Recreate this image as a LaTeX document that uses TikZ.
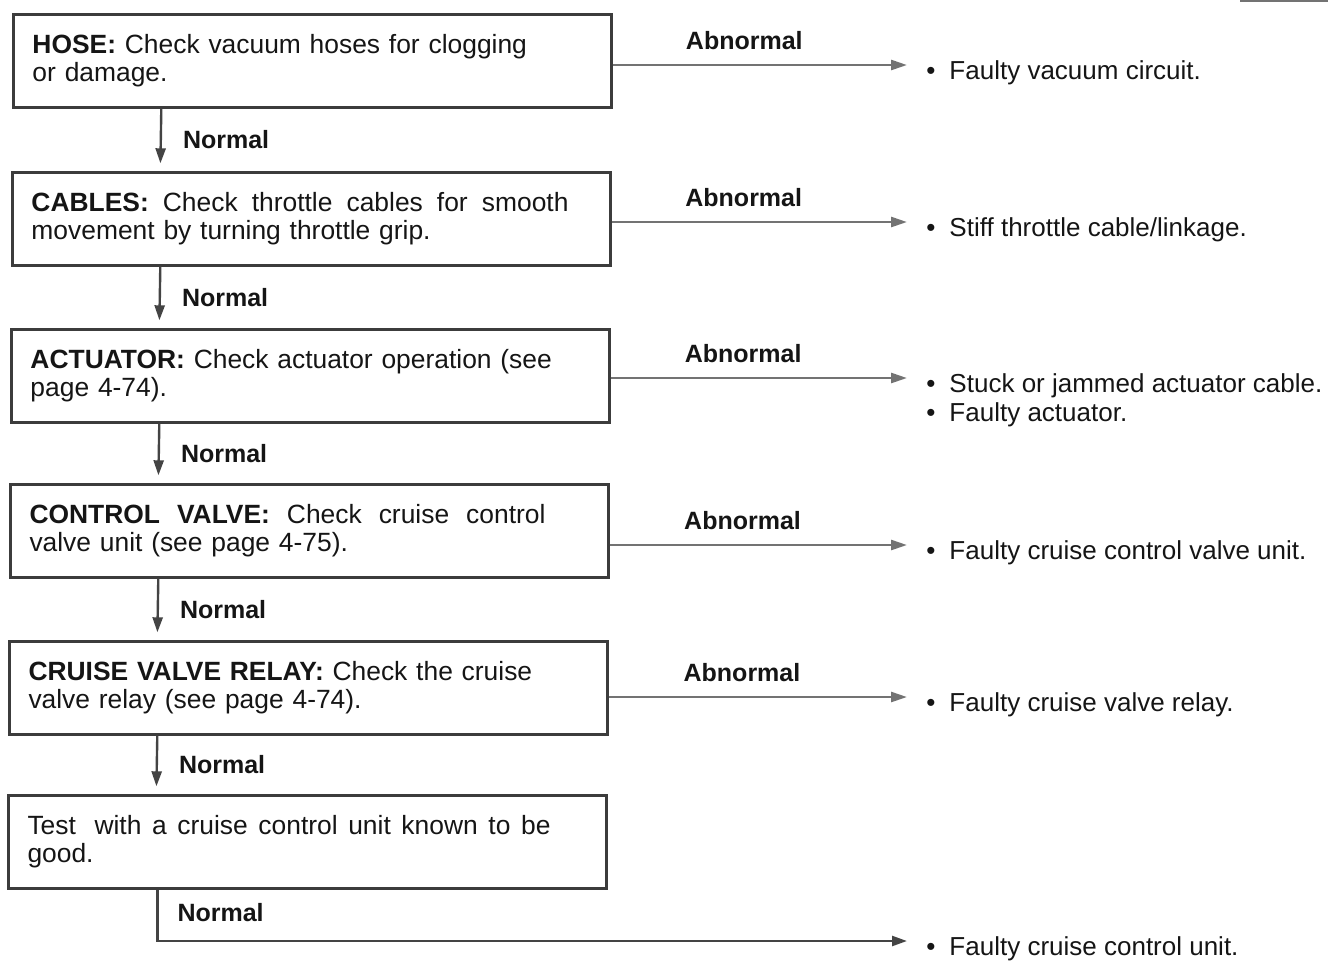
\documentclass[tikz,border=0pt]{standalone}
\usepackage{fontspec}
\setmainfont{Liberation Sans}
\usetikzlibrary{arrows.meta, positioning, calc}
\definecolor{boxline}{HTML}{3C3C3C}
\definecolor{okline}{HTML}{444444}
\definecolor{badline}{HTML}{737373}
\definecolor{inktext}{HTML}{151515}
% one line stretched to a given width (spaces may grow)
\newcommand{\spreadline}[2]{\hbox to #1{\spaceskip=0pt\xspaceskip=0pt\relax #2}}

\tikzset{
  checkbox/.style={draw=boxline, line width=1.2pt, minimum width=299pt,
    minimum height=46.5pt, text width=280pt, inner xsep=9.5pt, inner ysep=0pt,
    align=left, text=inktext, font=\fontsize{13.2}{14}\selectfont},
  result/.style={anchor=west, inner sep=0pt, text height=14pt, text depth=0pt,
    text=inktext, font=\fontsize{13}{14}\selectfont},
  verdict/.style={inner sep=0pt, text=inktext, font=\fontsize{12.5}{14}\selectfont\bfseries},
  okflow/.style={draw=okline, line width=1.2pt, shorten >=4pt,
    -{Triangle[length=7.5pt, width=5pt]}},
  badflow/.style={draw=badline, line width=1.3pt, shorten >=9.5pt,
    -{Triangle[length=8pt, width=5pt]}},
}

\begin{document}
\begin{tikzpicture}[x=0.5pt, y=-0.5pt]
        \useasboundingbox (0,0) rectangle (1328,960);
        % stray rule at top right
        \draw[badline, line width=1pt] (1240,1) -- (1328,1);

        % ── CHECK BOXES ────────────────────────────
        \node[checkbox] (hose) at (312.5,61)
          {\textbf{HOSE:} Check vacuum hoses for clogging\\or damage.};
        \node[checkbox] (cables) at (311.5,219)
          {\spreadline{268.5pt}{\textbf{CABLES:} Check throttle cables for smooth}\\
           movement by turning throttle grip.};
        \node[checkbox] (actuator) at (310.5,376)
          {\textbf{ACTUATOR:} Check actuator operation (see\\page 4-74).};
        \node[checkbox] (valve) at (309.5,531)
          {\spreadline{258pt}{\textbf{CONTROL VALVE:} Check cruise control}\\
           valve unit (see page 4-75).};
        \node[checkbox] (relay) at (308.5,688)
          {\textbf{CRUISE VALVE RELAY:} Check the cruise\\valve relay (see page 4-74).};
        \node[checkbox] (test) at (307.5,842)
          {\spreadline{261.5pt}{Test\hspace{4pt} with a cruise control unit known to be}\\good.};

        % ── RESULTS ────────────────────────────────
        \node[result] (vacuum) at (926,65)
          {\textbullet\hspace{7pt}Faulty vacuum circuit.};
        \node[result] (stiff) at (926,222)
          {\textbullet\hspace{7pt}Stiff throttle cable/linkage.};
        \node[result] (jammed) at (926,378)
          {\textbullet\hspace{7pt}Stuck or jammed actuator cable.};
        \node[result] (actfault) at (926,407)
          {\textbullet\hspace{7pt}Faulty actuator.};
        \node[result] (valvefault) at (926,545)
          {\textbullet\hspace{7pt}Faulty cruise control valve unit.};
        \node[result] (relayfault) at (926,697)
          {\textbullet\hspace{7pt}Faulty cruise valve relay.};
        \node[result] (unitfault) at (926,941)
          {\textbullet\hspace{7pt}Faulty cruise control unit.};

        % ── NORMAL ARROWS ──────────────────────────
        \foreach \a/\b in {hose/cables, cables/actuator, actuator/valve,
                           valve/relay, relay/test} {
          \draw[okflow] ([xshift=74.5pt]\a.south west) -- ([xshift=74.5pt]\b.north west)
            node[verdict, midway, anchor=west, xshift=10.5pt] {Normal};
        }
        \draw[okflow, shorten >=9.5pt] ([xshift=75pt]test.south west) |- (unitfault.west)
          node[verdict, pos=0.22, anchor=west, xshift=9.5pt] {Normal};

        % ── ABNORMAL ARROWS ────────────────────────
        \foreach \a/\r in {hose/vacuum, cables/stiff, actuator/jammed,
                           valve/valvefault, relay/relayfault} {
          \draw[badflow] (\a.east |- \r.west) -- (\r.west)
            node[verdict, pos=0.42, above=7pt] {Abnormal};
        }
      \end{tikzpicture}
\end{document}
